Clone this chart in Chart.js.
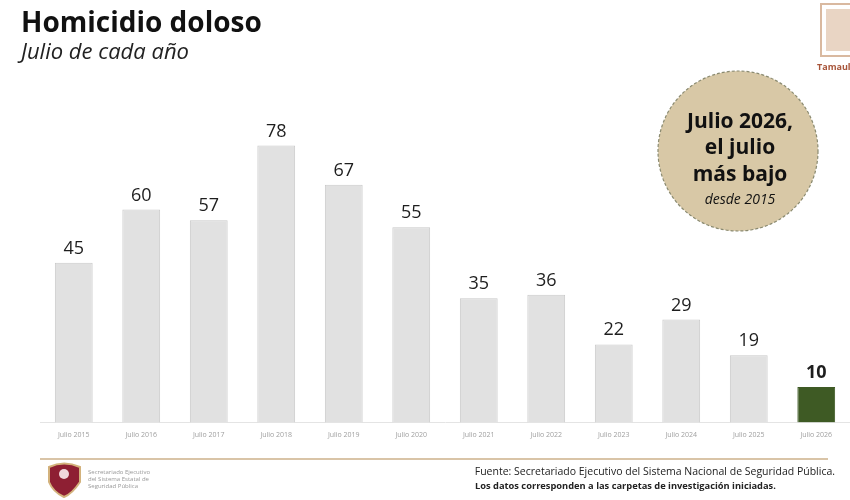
<!DOCTYPE html>
<html>
<head>
<meta charset="utf-8">
<script src="https://cdn.jsdelivr.net/npm/chart.js@4.4.0/dist/chart.umd.min.js"></script>
<style>
  html, body { margin: 0; padding: 0; background: #fff; }
  #wrap { position: relative; width: 850px; height: 500px; overflow: hidden; }
  canvas { position: absolute; left: 0; top: 0; }
</style>
</head>
<body>
<div id="wrap"><canvas id="chart" width="850" height="500"></canvas></div>
<script>
const years = ["Julio 2015", "Julio 2016", "Julio 2017", "Julio 2018", "Julio 2019", "Julio 2020",
  "Julio 2021", "Julio 2022", "Julio 2023", "Julio 2024", "Julio 2025", "Julio 2026"];
const homicidios = [45, 60, 57, 78, 67, 55, 35, 36, 22, 29, 19, 10];

const grayBar = "#e1e1e1";
const grayEdge = "#c9c9c9";
const greenBar = "#3e5a24";
const font = "'Open Sans', 'Noto Sans', sans-serif";

// title, badge, footer and value labels
const decor = {
  id: "decor",
  afterDatasetsDraw(chart) {
    const ctx = chart.ctx;
    const meta = chart.getDatasetMeta(0);
    ctx.save();
    ctx.textAlign = "center";
    ctx.textBaseline = "alphabetic";
    meta.data.forEach((bar, i) => {
      const last = i === homicidios.length - 1;
      ctx.font = (last ? "bold " : "") + "18px " + font;
      ctx.fillStyle = "#1e1e1e";
      ctx.fillText(String(homicidios[i]), bar.x, bar.y - 9);
    });
    ctx.restore();
  },
  afterDraw(chart) {
    const ctx = chart.ctx;
    ctx.save();

    // title
    ctx.fillStyle = "#111";
    ctx.textAlign = "left";
    ctx.font = "bold 28px " + font;
    ctx.fillText("Homicidio doloso", 21, 32);
    ctx.font = "italic 22px " + font;
    ctx.fillStyle = "#222";
    ctx.fillText("Julio de cada año", 21, 59);

    // badge
    ctx.beginPath();
    ctx.arc(738, 151, 80, 0, Math.PI * 2);
    ctx.fillStyle = "#d8c8a6";
    ctx.fill();
    ctx.setLineDash([3, 2]);
    ctx.lineWidth = 1.2;
    ctx.strokeStyle = "#8a8a70";
    ctx.stroke();
    ctx.setLineDash([]);
    ctx.textAlign = "center";
    ctx.fillStyle = "#111";
    ctx.font = "bold 21px " + font;
    ctx.fillText("Julio 2026,", 740, 128);
    ctx.fillText("el julio", 740, 154);
    ctx.fillText("más bajo", 740, 181);
    ctx.font = "italic 14px " + font;
    ctx.fillText("desde 2015", 740, 204);

    // emblem corner
    ctx.strokeStyle = "#d9b9a0";
    ctx.lineWidth = 2;
    ctx.strokeRect(821, 4, 40, 52);
    ctx.fillStyle = "#e9d5c4";
    ctx.fillRect(826, 9, 30, 42);
    ctx.fillStyle = "#a8553a";
    ctx.font = "bold 9px " + font;
    ctx.textAlign = "left";
    ctx.fillText("Tamaulipas", 817, 70);

    // footer line
    ctx.strokeStyle = "#cdb08a";
    ctx.lineWidth = 1.5;
    ctx.beginPath();
    ctx.moveTo(40, 459);
    ctx.lineTo(828, 459);
    ctx.stroke();

    // footer logo
    ctx.beginPath();
    ctx.moveTo(49, 467);
    ctx.quadraticCurveTo(64, 460, 80, 467);
    ctx.lineTo(80, 482);
    ctx.quadraticCurveTo(72, 494, 64, 497);
    ctx.quadraticCurveTo(53, 492, 49, 482);
    ctx.closePath();
    ctx.fillStyle = "#8e1f33";
    ctx.fill();
    ctx.strokeStyle = "#d3b27c";
    ctx.lineWidth = 2;
    ctx.stroke();
    ctx.fillStyle = "#f1d8dc";
    ctx.beginPath();
    ctx.arc(64, 474, 5, 0, Math.PI * 2);
    ctx.fill();
    ctx.fillStyle = "#999";
    ctx.font = "6px " + font;
    ctx.fillText("Secretariado Ejecutivo", 88, 474);
    ctx.fillText("del Sistema Estatal de", 88, 481);
    ctx.fillText("Seguridad Pública", 88, 488);

    // footer source
    ctx.textAlign = "right";
    ctx.fillStyle = "#222";
    ctx.font = "10.5px " + font;
    ctx.fillText("Fuente: Secretariado Ejecutivo del Sistema Nacional de Seguridad Pública.", 835, 475);
    ctx.font = "bold 9.3px " + font;
    ctx.textAlign = "left";
    ctx.fillText("Los datos corresponden a las carpetas de investigación iniciadas.", 475, 489);
    ctx.restore();
  }
};

new Chart(document.getElementById("chart"), {
  type: "bar",
  data: {
    labels: years,
    datasets: [{
      data: homicidios,
      backgroundColor: homicidios.map((_, i) => i === homicidios.length - 1 ? greenBar : grayBar),
      borderColor: homicidios.map((_, i) => i === homicidios.length - 1 ? greenBar : grayEdge),
      borderWidth: 1,
      categoryPercentage: 1,
      barPercentage: 0.56
    }]
  },
  options: {
    responsive: false,
    animation: false,
    devicePixelRatio: 1,
    layout: { padding: { left: 40, right: 0, top: 103, bottom: 61 } },
    plugins: { legend: { display: false }, tooltip: { enabled: false } },
    scales: {
      x: {
        grid: { display: false },
        border: { display: true, color: "#e4e4e4", width: 1 },
        ticks: { color: "#a0a0a0", font: { size: 7, family: font }, padding: 0, maxRotation: 0, autoSkip: false }
      },
      y: {
        display: false,
        min: 0,
        max: 90
      }
    }
  },
  plugins: [decor]
});
</script>
</body>
</html>
